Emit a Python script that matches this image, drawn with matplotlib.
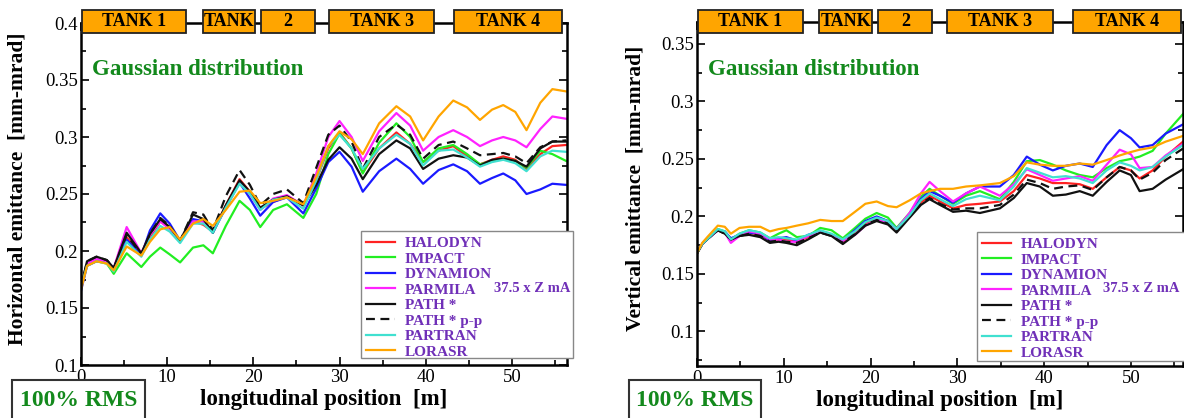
import matplotlib
matplotlib.use("Agg")
import matplotlib.pyplot as plt
from matplotlib.patches import Rectangle
from matplotlib.ticker import MultipleLocator, FuncFormatter
import matplotlib.transforms as mtransforms

# ---------------- data: horizontal emittance (left panel) ----------------
x_h = [0, 0.7, 1.8, 3.0, 3.8, 5.3, 7.0, 8.0, 9.2, 10.3, 11.5, 13.0, 14.2, 15.3, 16.8,
       18.4, 19.6, 20.8, 22.3, 23.9, 25.8, 27.3, 28.7, 30.0, 31.4, 32.7, 34.6, 36.6,
       38.2, 39.7, 41.5, 43.2, 44.8, 46.3, 47.7, 49.0, 50.4, 51.7, 53.3, 54.7, 56.3]
halodyn_h = [0.168, 0.188, 0.192, 0.190, 0.184, 0.212, 0.197, 0.212, 0.226, 0.220, 0.209,
             0.226, 0.223, 0.217, 0.240, 0.263, 0.252, 0.237, 0.243, 0.248, 0.240, 0.262,
             0.290, 0.304, 0.290, 0.269, 0.290, 0.304, 0.294, 0.278, 0.288, 0.292, 0.283,
             0.276, 0.280, 0.283, 0.280, 0.272, 0.285, 0.292, 0.293]
impact_h = [0.168, 0.188, 0.191, 0.189, 0.180, 0.198, 0.186, 0.195, 0.203, 0.197, 0.190,
            0.203, 0.205, 0.198, 0.222, 0.244, 0.236, 0.221, 0.236, 0.241, 0.229, 0.250,
            0.285, 0.303, 0.290, 0.268, 0.295, 0.312, 0.300, 0.278, 0.290, 0.293, 0.285,
            0.276, 0.279, 0.281, 0.279, 0.273, 0.288, 0.285, 0.279]
dynamion_h = [0.165, 0.187, 0.191, 0.190, 0.183, 0.210, 0.196, 0.218, 0.233, 0.224, 0.209,
              0.228, 0.226, 0.216, 0.238, 0.260, 0.246, 0.231, 0.243, 0.247, 0.233, 0.255,
              0.278, 0.287, 0.274, 0.252, 0.270, 0.281, 0.272, 0.259, 0.271, 0.276, 0.270,
              0.259, 0.264, 0.268, 0.262, 0.250, 0.254, 0.259, 0.258]
parmila_h = [0.168, 0.189, 0.193, 0.191, 0.185, 0.221, 0.198, 0.214, 0.226, 0.219, 0.209,
             0.226, 0.226, 0.217, 0.238, 0.260, 0.250, 0.236, 0.246, 0.249, 0.240, 0.268,
             0.300, 0.314, 0.300, 0.279, 0.305, 0.321, 0.310, 0.288, 0.300, 0.306, 0.300,
             0.292, 0.297, 0.300, 0.297, 0.291, 0.307, 0.318, 0.316]
path_h = [0.168, 0.191, 0.195, 0.192, 0.185, 0.216, 0.198, 0.215, 0.228, 0.221, 0.209,
          0.232, 0.228, 0.216, 0.240, 0.262, 0.252, 0.238, 0.245, 0.248, 0.240, 0.258,
          0.280, 0.291, 0.281, 0.263, 0.285, 0.297, 0.290, 0.272, 0.281, 0.284, 0.282,
          0.275, 0.280, 0.281, 0.279, 0.274, 0.290, 0.296, 0.296]
pathpp_h = [0.168, 0.191, 0.195, 0.192, 0.185, 0.214, 0.197, 0.215, 0.229, 0.222, 0.209,
            0.234, 0.232, 0.218, 0.248, 0.271, 0.258, 0.240, 0.250, 0.254, 0.242, 0.273,
            0.302, 0.310, 0.296, 0.272, 0.300, 0.311, 0.302, 0.281, 0.293, 0.296, 0.290,
            0.284, 0.285, 0.286, 0.283, 0.277, 0.291, 0.296, 0.297]
partran_h = [0.168, 0.187, 0.191, 0.189, 0.182, 0.208, 0.195, 0.210, 0.222, 0.217, 0.207,
             0.224, 0.224, 0.216, 0.238, 0.259, 0.250, 0.236, 0.245, 0.247, 0.237, 0.262,
             0.292, 0.302, 0.290, 0.272, 0.290, 0.302, 0.294, 0.275, 0.288, 0.289, 0.282,
             0.274, 0.278, 0.280, 0.277, 0.270, 0.283, 0.288, 0.287]
lorasr_h = [0.166, 0.187, 0.191, 0.189, 0.183, 0.204, 0.196, 0.208, 0.219, 0.221, 0.210,
            0.224, 0.228, 0.222, 0.236, 0.252, 0.253, 0.242, 0.244, 0.247, 0.241, 0.265,
            0.292, 0.305, 0.298, 0.285, 0.312, 0.327, 0.318, 0.297, 0.318, 0.332, 0.326,
            0.315, 0.324, 0.328, 0.322, 0.306, 0.330, 0.342, 0.340]

# ---------------- data: vertical emittance (right panel) ----------------
x_v = [0, 0.6, 1.3, 2.4, 3.2, 3.9, 4.9, 6.0, 7.3, 8.4, 9.4, 10.3, 11.5, 12.8, 14.2, 15.5,
       16.8, 18.2, 19.4, 20.7, 22.0, 23.0, 24.5, 25.8, 26.8, 28.0, 29.5, 31.0, 32.6, 34.9,
       36.5, 38.0, 39.5, 41.0, 42.5, 44.1, 45.6, 47.2, 48.7, 50.0, 51.0, 52.5, 54.0, 56.0]
halodyn_v = [0.168, 0.176, 0.181, 0.188, 0.186, 0.179, 0.183, 0.186, 0.184, 0.179, 0.180,
             0.180, 0.178, 0.182, 0.187, 0.184, 0.178, 0.186, 0.194, 0.199, 0.196, 0.189,
             0.200, 0.212, 0.218, 0.213, 0.207, 0.210, 0.211, 0.213, 0.222, 0.236, 0.233,
             0.229, 0.229, 0.228, 0.224, 0.234, 0.243, 0.240, 0.233, 0.240, 0.252, 0.265]
impact_v = [0.168, 0.176, 0.181, 0.189, 0.187, 0.180, 0.185, 0.188, 0.186, 0.181, 0.185,
            0.188, 0.182, 0.183, 0.190, 0.188, 0.181, 0.190, 0.198, 0.203, 0.199, 0.190,
            0.203, 0.217, 0.224, 0.218, 0.211, 0.218, 0.222, 0.215, 0.230, 0.248, 0.249,
            0.245, 0.240, 0.236, 0.234, 0.242, 0.248, 0.250, 0.252, 0.257, 0.272, 0.289]
dynamion_v = [0.168, 0.176, 0.181, 0.188, 0.187, 0.181, 0.184, 0.186, 0.185, 0.179, 0.181,
              0.182, 0.179, 0.184, 0.187, 0.184, 0.179, 0.188, 0.196, 0.200, 0.196, 0.189,
              0.202, 0.215, 0.222, 0.218, 0.212, 0.220, 0.226, 0.226, 0.236, 0.252, 0.245,
              0.240, 0.244, 0.246, 0.243, 0.262, 0.275, 0.268, 0.260, 0.262, 0.272, 0.280]
parmila_v = [0.168, 0.176, 0.181, 0.188, 0.186, 0.177, 0.183, 0.187, 0.185, 0.180, 0.180,
             0.178, 0.178, 0.183, 0.187, 0.184, 0.179, 0.184, 0.192, 0.197, 0.195, 0.189,
             0.203, 0.220, 0.230, 0.222, 0.213, 0.220, 0.226, 0.218, 0.228, 0.241, 0.236,
             0.231, 0.233, 0.235, 0.231, 0.245, 0.258, 0.254, 0.242, 0.243, 0.253, 0.263]
path_v = [0.168, 0.176, 0.181, 0.188, 0.185, 0.180, 0.183, 0.184, 0.182, 0.177, 0.178,
          0.177, 0.175, 0.180, 0.186, 0.183, 0.176, 0.184, 0.192, 0.196, 0.193, 0.186,
          0.199, 0.210, 0.215, 0.210, 0.204, 0.205, 0.203, 0.207, 0.216, 0.229, 0.226,
          0.218, 0.219, 0.222, 0.218, 0.230, 0.240, 0.236, 0.222, 0.224, 0.232, 0.241]
pathpp_v = [0.168, 0.176, 0.181, 0.188, 0.185, 0.180, 0.183, 0.185, 0.183, 0.178, 0.179,
            0.178, 0.177, 0.181, 0.186, 0.183, 0.177, 0.185, 0.193, 0.197, 0.194, 0.187,
            0.200, 0.211, 0.216, 0.211, 0.206, 0.207, 0.207, 0.210, 0.219, 0.232, 0.229,
            0.224, 0.226, 0.227, 0.223, 0.234, 0.243, 0.240, 0.232, 0.238, 0.249, 0.259]
partran_v = [0.168, 0.176, 0.181, 0.189, 0.187, 0.180, 0.185, 0.188, 0.186, 0.181, 0.182,
             0.181, 0.180, 0.184, 0.188, 0.185, 0.180, 0.187, 0.195, 0.199, 0.196, 0.189,
             0.201, 0.214, 0.220, 0.215, 0.209, 0.215, 0.218, 0.214, 0.226, 0.242, 0.238,
             0.234, 0.235, 0.233, 0.229, 0.240, 0.247, 0.244, 0.240, 0.243, 0.252, 0.262]
lorasr_v = [0.168, 0.177, 0.183, 0.192, 0.191, 0.185, 0.190, 0.191, 0.191, 0.187, 0.189,
            0.190, 0.192, 0.194, 0.197, 0.196, 0.196, 0.204, 0.211, 0.213, 0.209, 0.208,
            0.214, 0.220, 0.222, 0.224, 0.224, 0.226, 0.227, 0.229, 0.235, 0.247, 0.245,
            0.244, 0.244, 0.246, 0.245, 0.249, 0.253, 0.256, 0.258, 0.260, 0.265, 0.270]

codes = ["HALODYN", "IMPACT", "DYNAMION", "PARMILA", "PATH *", "PATH * p-p", "PARTRAN", "LORASR"]
colors = ["#ff2222", "#22ee22", "#1a1aff", "#ff22ff", "#111111", "#111111", "#40e0d0", "#ffa500"]
styles = ["-", "-", "-", "-", "-", (0, (4, 2.5)), "-", "-"]

tank_labels = ["TANK 1", "TANK", "2", "TANK 3", "TANK 4"]
tank_start = [0.1, 14.1, 20.9, 28.8, 43.3]
tank_end = [12.2, 20.2, 27.1, 41.0, 55.8]

# ---------------- figure ----------------
serif = ["Liberation Serif", "DejaVu Serif"]
plt.rcParams["font.family"] = serif

fig = plt.figure(figsize=(11.84, 4.18), dpi=100)
W, H = 1184.0, 418.0

purple = "#7030b8"
dgreen = "#13891c"

def make_panel(rect_px, xmax, ylim, series, xs, ylabel, ylab_x, legend_box, mA_xy, rms_box):
    l, r, t, b = rect_px
    ax = fig.add_axes([l / W, 1 - b / H, (r - l) / W, (b - t) / H])
    for vals, c, ls, name in zip(series, colors, styles, codes):
        ax.plot(xs, vals, color=c, ls=ls, lw=1.6, label=name)
    ax.set_xlim(0, xmax)
    ax.set_ylim(*ylim)
    ax.xaxis.set_major_locator(MultipleLocator(10))
    ax.xaxis.set_minor_locator(MultipleLocator(5))
    ax.yaxis.set_major_locator(MultipleLocator(0.05))
    ax.yaxis.set_minor_locator(MultipleLocator(0.025))
    ax.yaxis.set_major_formatter(FuncFormatter(lambda v, p: "%g" % round(v, 3)))
    ax.tick_params(which="both", direction="in", top=True, right=True, labelsize=13.5,
                   width=1.2)
    ax.tick_params(which="major", length=6)
    ax.tick_params(which="minor", length=3.5)
    ax.tick_params(axis="y", pad=2)
    ax.tick_params(axis="x", pad=3)
    for s in ax.spines.values():
        s.set_linewidth(1.8)
    ax.set_xlabel("longitudinal position  [m]", fontsize=16.5, fontweight="bold", va="top")
    ax.xaxis.set_label_coords(0.5, -0.07)
    ax.set_ylabel(ylabel, fontsize=15.5, fontweight="bold", va="center")
    ax.yaxis.set_label_coords(ylab_x, 0.515)

    # tank boxes on top frame
    trans = mtransforms.blended_transform_factory(ax.transData, ax.transAxes)
    h_ax = (b - t)
    y0 = 1 - 10.5 / h_ax
    y1 = 1 + 12.5 / h_ax
    for lab, s0, s1 in zip(tank_labels, tank_start, tank_end):
        ax.add_patch(Rectangle((s0, y0), s1 - s0, y1 - y0, transform=trans, clip_on=False,
                               facecolor="#ffa500", edgecolor="#222222", lw=1.3, zorder=10))
        ax.text((s0 + s1) / 2, (y0 + y1) / 2, lab, transform=trans, ha="center", va="center",
                fontsize=13, fontweight="bold", color="black", zorder=11, clip_on=False)

    ax.text(0.023, 0.863, "Gaussian distribution", transform=ax.transAxes, fontsize=16.5,
            fontweight="bold", color=dgreen, ha="left", va="center")

    # legend frame (wide box that also holds the current note)
    lx0, ly0, lx1, ly1 = legend_box
    ax.add_patch(Rectangle((lx0 / W, 1 - ly1 / H), (lx1 - lx0) / W, (ly1 - ly0) / H,
                           transform=fig.transFigure, clip_on=False, facecolor="white",
                           edgecolor="#888888", lw=1.0, zorder=18))
    leg = ax.legend(loc="upper left", bbox_to_anchor=(lx0 / W, 1 - ly0 / H),
                    bbox_transform=fig.transFigure, frameon=False,
                    handlelength=1.9, handletextpad=0.6, labelspacing=0.12,
                    borderpad=0.35, borderaxespad=0,
                    prop={"family": serif, "weight": "bold", "size": 11})
    for txt in leg.get_texts():
        txt.set_color(purple)
    leg.set_zorder(20)

    fig.text(mA_xy[0] / W, 1 - mA_xy[1] / H, "37.5 x Z mA", fontsize=10.5, fontweight="bold",
             color=purple, ha="left", va="center", zorder=30)

    bx0, bx1, by0 = rms_box
    fig.patches.append(Rectangle((bx0 / W, -0.05), (bx1 - bx0) / W, 0.05 + (H - by0) / H,
                                 transform=fig.transFigure, facecolor="white",
                                 edgecolor="#333333", lw=1.5, figure=fig))
    fig.text((bx0 + bx1) / 2 / W, 1 - 400 / H, "100% RMS", fontsize=17, fontweight="bold",
             color=dgreen, ha="center", va="center")
    return ax

series_h = [halodyn_h, impact_h, dynamion_h, parmila_h, path_h, pathpp_h, partran_h, lorasr_h]
series_v = [halodyn_v, impact_v, dynamion_v, parmila_v, path_v, pathpp_v, partran_v, lorasr_v]

make_panel((81, 567, 23, 365), 56.4, (0.1, 0.4), series_h, x_h,
           "Horizontal emittance  [mm-mrad]", -0.13, (361, 231, 573, 358), (494, 288),
           (12, 145, 380))
make_panel((697, 1183, 22, 366), 56.0, (0.07, 0.369), series_v, x_v,
           "Vertical emittance  [mm-mrad]", -0.126, (977, 232, 1190, 361), (1103, 288),
           (629, 761, 380))

fig.savefig("out.png", dpi=100)
